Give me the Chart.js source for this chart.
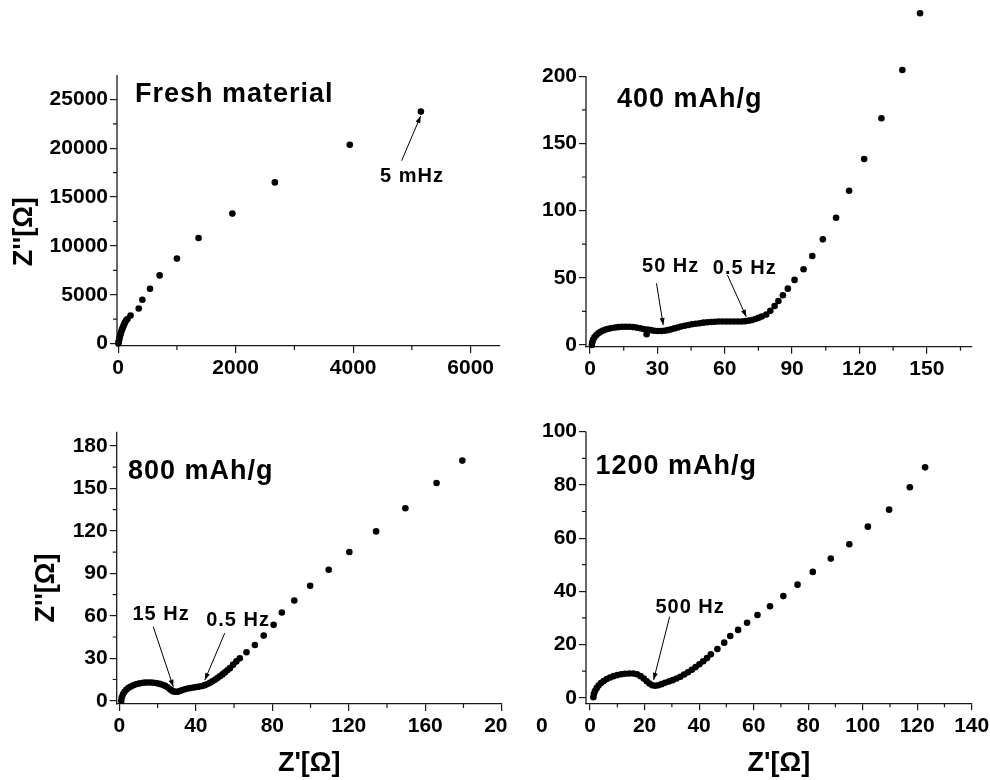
<!DOCTYPE html>
<html>
<head>
<meta charset="utf-8">
<script src="https://cdn.jsdelivr.net/npm/chart.js@4.4.1/dist/chart.umd.min.js"></script>
<style>
  html, body { margin: 0; padding: 0; background: #fff; }
  body { width: 990px; height: 780px; position: relative; overflow: hidden; }
  canvas { position: absolute; }
  .stray { position: absolute; left: 536px; top: 713px; line-height: 1; font: bold 21px "Liberation Sans", Arial, sans-serif; color: #000; }
</style>
</head>
<body>
<canvas id="fresh"></canvas>
<canvas id="c400"></canvas>
<canvas id="c800"></canvas>
<canvas id="c1200"></canvas>
<div class="stray">0</div>
<script>
// Nyquist data, [Z', Z''] in ohm
const fresh = [[3,0],[8,150],[14,330],[20,510],[27,690],[35,870],[44,1050],[54,1240],[65,1430],[77,1620],
  [90,1810],[104,2000],[119,2190],[136,2380],[158,2520],[210,2880],[350,3590],[412,4490],[542,5610],
  [706,6980],[1000,8700],[1368,10810],[1944,13310],[2667,16500],[3943,20360],[5153,23750]];

const cap400 = [[0.8,0.0],[1.0,2.0],[1.4,4.0],[2.0,5.8],[2.8,7.4],[3.7,8.7],[4.7,9.8],[5.8,10.7],[7.0,11.5],
  [8.3,12.1],[9.7,12.6],[11.2,13.0],[12.7,13.3],[14.3,13.5],[15.9,13.6],[17.5,13.5],[19.1,13.3],[20.7,12.9],
  [22.3,12.4],[23.8,11.9],[25.2,8.0],[25.6,11.5],[27.1,11.0],[28.6,10.6],[30.1,10.4],[31.6,10.4],[33.1,10.6],
  [34.6,11.0],[36.1,11.6],[37.6,12.3],[39.1,13.0],[40.6,13.7],[42.2,14.3],[43.8,14.9],[45.4,15.4],[47.1,15.8],
  [48.8,16.2],[50.5,16.6],[52.2,16.9],[53.9,17.1],[55.6,17.3],[57.3,17.4],[59.0,17.5],[60.7,17.5],[62.4,17.5],
  [64.1,17.4],[65.8,17.4],[67.5,17.5],[69.1,17.7],[70.7,18.1],[72.2,18.6],[73.7,19.3],[75.1,20.2],[76.5,21.2],
  [78.5,22.6],[80.3,25.5],[82.2,29.0],[83.9,32.7],[85.9,37.0],[88.1,41.9],[91.1,48.4],[95.1,56.3],[99.0,66.2],
  [103.7,78.6],[109.6,94.7],[115.4,114.8],[122.1,138.4],[129.8,168.7],[139.1,204.6],[147.0,246.8]];

const cap800 = [[1.0,0.0],[1.3,2.5],[1.9,4.6],[2.7,6.4],[3.7,7.9],[4.8,9.1],[6.0,10.1],[7.3,10.9],[8.7,11.6],
  [10.2,12.1],[11.7,12.5],[13.2,12.8],[14.8,12.9],[16.4,12.9],[18.0,12.7],[19.6,12.4],[21.1,11.9],[22.6,11.3],
  [24.0,10.5],[25.2,9.5],[26.3,8.3],[27.3,7.3],[28.3,6.6],[29.3,6.3],[30.4,6.4],[31.6,6.9],[32.9,7.5],[34.3,8.1],
  [35.8,8.6],[37.3,9.0],[38.8,9.4],[40.3,9.7],[41.8,10.0],[43.3,10.4],[44.7,11.0],[46.1,11.8],[47.4,12.7],
  [48.7,13.7],[50.0,14.8],[51.3,16.0],[52.6,17.3],[53.9,18.6],[55.2,20.0],[56.5,21.5],[57.8,23.0],[59.5,25.5],
  [61.2,27.8],[63.0,30.0],[66.5,34.2],[70.9,39.4],[75.5,46.0],[80.7,53.6],[85.0,62.3],[91.5,70.8],[99.8,81.2],
  [109.5,92.5],[120.3,105.0],[134.3,119.6],[149.6,135.9],[165.9,153.8],[179.4,169.6]];

const cap1200 = [[1.2,0.2],[1.4,1.4],[1.8,2.5],[2.4,3.6],[3.1,4.6],[4.0,5.5],[5.0,6.3],[6.1,7.0],[7.3,7.6],
  [8.6,8.1],[10.0,8.5],[11.4,8.8],[12.8,9.0],[14.3,9.1],[15.8,9.1],[17.2,8.8],[18.5,8.1],[19.7,7.2],[20.8,6.2],
  [21.8,5.3],[22.8,4.7],[23.9,4.5],[25.0,4.7],[26.2,5.1],[27.5,5.6],[28.9,6.1],[30.3,6.6],[31.7,7.2],[33.1,7.9],
  [34.5,8.7],[35.9,9.6],[37.3,10.5],[38.7,11.5],[40.1,12.6],[41.5,13.7],[42.9,14.9],[44.3,16.3],[46.7,18.3],
  [49.2,20.7],[51.4,23.2],[54.3,25.5],[57.6,28.2],[61.4,31.1],[66.0,34.4],[70.9,38.2],[76.1,42.5],[81.7,47.3],
  [88.3,52.3],[95.1,57.7],[101.9,64.3],[109.7,70.7],[117.3,79.1],[122.9,86.6]];

// tick values
const freshXTicks = [0, 2000, 4000, 6000];
const freshXMinor = [1000, 3000, 5000];
const freshYTicks = [0, 5000, 10000, 15000, 20000, 25000];
const freshYMinor = [2500, 7500, 12500, 17500, 22500];
const c400XTicks = [0, 30, 60, 90, 120, 150];
const c400XMinor = [15, 45, 75, 105, 135, 165];
const c400YTicks = [0, 50, 100, 150, 200];
const c400YMinor = [25, 75, 125, 175];
const c800XTicks = [0, 40, 80, 120, 160, 200];
const c800XMinor = [20, 60, 100, 140, 180];
const c800YTicks = [0, 30, 60, 90, 120, 150, 180];
const c800YMinor = [15, 45, 75, 105, 135, 165];
const c1200XTicks = [0, 20, 40, 60, 80, 100, 120, 140];
const c1200XMinor = [10, 30, 50, 70, 90, 110, 130];
const c1200YTicks = [0, 20, 40, 60, 80, 100];
const c1200YMinor = [10, 30, 50, 70, 90];

const FONT = '"Liberation Sans", Arial, sans-serif';
const INK = '#1a1a1a';

// y axis line, minor ticks, labels, frequency notes with arrows, y titles
const decorPlugin = {
  id: 'decor',
  afterDraw(chart, args, opts) {
    const { ctx } = chart;
    const sx = chart.scales.x, sy = chart.scales.y;
    const px = (v) => sx.getPixelForValue(v);
    const py = (v) => sy.getPixelForValue(v);
    ctx.save();
    ctx.strokeStyle = INK;
    ctx.lineWidth = 1.3;
    ctx.beginPath();
    ctx.moveTo(sy.right, sy.bottom + 0.6);
    ctx.lineTo(sy.right, py(opts.yAxisTop));
    ctx.stroke();

    ctx.lineWidth = 1.2;
    ctx.beginPath();
    opts.xMinor.forEach((v) => { ctx.moveTo(px(v), sx.top); ctx.lineTo(px(v), sx.top + 4); });
    opts.yMinor.forEach((v) => { ctx.moveTo(sy.right, py(v)); ctx.lineTo(sy.right - 4, py(v)); });
    ctx.stroke();

    ctx.fillStyle = '#000';
    ctx.textBaseline = 'middle';
    ctx.textAlign = 'left';
    ctx.letterSpacing = '1px';
    ctx.font = `bold 27px ${FONT}`;
    ctx.fillText(opts.label.text, px(opts.label.x), py(opts.label.y));

    ctx.font = `bold 20px ${FONT}`;
    ctx.textAlign = 'center';
    ctx.lineWidth = 1;
    ctx.strokeStyle = '#000';
    opts.notes.forEach((n) => {
      ctx.fillText(n.text, px(n.x), py(n.y));
      const x1 = px(n.from[0]), y1 = py(n.from[1]), x2 = px(n.to[0]), y2 = py(n.to[1]);
      ctx.beginPath(); ctx.moveTo(x1, y1); ctx.lineTo(x2, y2); ctx.stroke();
      const a = Math.atan2(y2 - y1, x2 - x1), L = 7, W = 2.5;
      ctx.beginPath();
      ctx.moveTo(x2, y2);
      ctx.lineTo(x2 - L * Math.cos(a) + W * Math.sin(a), y2 - L * Math.sin(a) - W * Math.cos(a));
      ctx.lineTo(x2 - L * Math.cos(a) - W * Math.sin(a), y2 - L * Math.sin(a) + W * Math.cos(a));
      ctx.closePath(); ctx.fill();
    });

    if (opts.yTitle) {
      ctx.letterSpacing = '0px';
      ctx.font = `bold 27px ${FONT}`;
      ctx.translate(opts.yTitle.cx, opts.yTitle.cy);
      ctx.rotate(-Math.PI / 2);
      ctx.fillText(opts.yTitle.text, 0, 0);
    }
    ctx.restore();
  }
};

function axis(range, ticks, fitSize, horizontal, title) {
  return {
    type: 'linear',
    position: horizontal ? 'bottom' : 'left',
    min: range[0],
    max: range[1],
    afterBuildTicks: (s) => { s.ticks = ticks.map((v) => ({ value: v })); },
    afterFit: (s) => {
      if (horizontal) { s.height = fitSize; s.paddingLeft = 0; s.paddingRight = 0; }
      else { s.width = fitSize; s.paddingTop = 0; s.paddingBottom = 0; }
    },
    grid: { drawOnChartArea: false, drawTicks: true, tickLength: 7, color: INK, lineWidth: 1.2 },
    // y axis line is drawn by the plugin so it can stop below the top of the chart area
    border: { display: horizontal, color: INK, width: 1.3 },
    ticks: {
      autoSkip: false, maxRotation: 0, padding: horizontal ? 3 : 2, color: '#000',
      font: { family: FONT, size: 21, weight: 'bold' },
      callback: (v) => String(v)
    },
    title: title
      ? { display: true, text: title, color: '#000', font: { family: FONT, size: 27, weight: 'bold', lineHeight: 1.2 }, padding: { top: 0, bottom: 0 } }
      : { display: false }
  };
}

function panel(id, p) {
  const canvas = document.getElementById(id);
  canvas.width = p.box[2]; canvas.height = p.box[3];
  Object.assign(canvas.style, { left: p.box[0] + 'px', top: p.box[1] + 'px', width: p.box[2] + 'px', height: p.box[3] + 'px' });
  return new Chart(canvas, {
    type: 'scatter',
    data: {
      datasets: [{
        data: p.data.map(([x, y]) => ({ x, y })),
        pointRadius: 3.3, pointBackgroundColor: '#000', pointBorderWidth: 0,
        showLine: false, clip: false
      }]
    },
    options: {
      responsive: false, animation: false, devicePixelRatio: 1, events: [],
      layout: { autoPadding: false, padding: p.pad },
      scales: {
        x: axis(p.xRange, p.xTicks, p.xFit, true, p.xTitle),
        y: axis(p.yRange, p.yTicks, p.yFit, false, null)
      },
      plugins: {
        legend: { display: false }, tooltip: { enabled: false },
        decor: {
          xMinor: p.xMinor, yMinor: p.yMinor, label: p.label, notes: p.notes, yTitle: p.yTitle,
          yAxisTop: p.yAxisTop !== undefined ? p.yAxisTop : p.yRange[1]
        }
      }
    },
    plugins: [decorPlugin]
  });
}

panel('fresh', {
  box: [0, 0, 502, 390], pad: { left: 0, top: 75, right: 2, bottom: 4 }, yFit: 117, xFit: 40,
  data: fresh, xRange: [-20, 6500], yRange: [-250, 27500],
  xTicks: freshXTicks, xMinor: freshXMinor, yTicks: freshYTicks, yMinor: freshYMinor,
  label: { text: 'Fresh material', x: 286, y: 25450 },
  notes: [{ text: '5 mHz', x: 5002, y: 17090, from: [4826, 18730], to: [5150, 23305] }],
  yTitle: { text: "Z''[Ω]", cx: 25, cy: 231.7 }
});

// scale runs past 200 so the two highest points stay on the plot; axis line stops at 200
panel('c400', {
  box: [500, 0, 490, 390], pad: { left: 0, top: 9, right: 18.3, bottom: 3.3 }, yFit: 86, xFit: 40,
  data: cap400, xRange: [-1.8, 170], yRange: [-1.3, 250], yAxisTop: 200,
  xTicks: c400XTicks, xMinor: c400XMinor, yTicks: c400YTicks, yMinor: c400YMinor,
  label: { text: '400 mAh/g', x: 12.0, y: 182.3 },
  notes: [
    { text: '50 Hz', x: 35.9, y: 58.2, from: [29.6, 45.9], to: [32.6, 14.8] },
    { text: '0.5 Hz', x: 68.9, y: 57.0, from: [61.2, 52.0], to: [69.6, 21.0] }
  ]
});

panel('c800', {
  box: [0, 390, 508, 390], pad: { left: 0, top: 41.7, right: 6.3, bottom: 0 }, yFit: 116.7, xFit: 76,
  data: cap800, xRange: [-1.4, 200], yRange: [-2.3, 190],
  xTicks: c800XTicks, xMinor: c800XMinor, yTicks: c800YTicks, yMinor: c800YMinor,
  xTitle: "Z'[Ω]",
  label: { text: '800 mAh/g', x: 4.5, y: 162.0 },
  notes: [
    { text: '15 Hz', x: 21.8, y: 60.6, from: [17.7, 52.4], to: [28.2, 9.9] },
    { text: '0.5 Hz', x: 62.1, y: 56.4, from: [55.1, 47.7], to: [44.7, 14.6] }
  ],
  yTitle: { text: "Z''[Ω]", cx: 46.7, cy: 198 }
});

panel('c1200', {
  box: [508, 390, 482, 390], pad: { left: 0, top: 41.7, right: 18.3, bottom: 0 }, yFit: 78, xFit: 76.7,
  data: cap1200, xRange: [-1.5, 140], yRange: [-2.1, 100],
  xTicks: c1200XTicks, xMinor: c1200XMinor, yTicks: c1200YTicks, yMinor: c1200YMinor,
  xTitle: "Z'[Ω]",
  label: { text: '1200 mAh/g', x: 2.0, y: 86.9 },
  notes: [{ text: '500 Hz', x: 36.7, y: 34.0, from: [29.2, 30.5], to: [23.3, 6.7] }]
});
</script>
</body>
</html>
